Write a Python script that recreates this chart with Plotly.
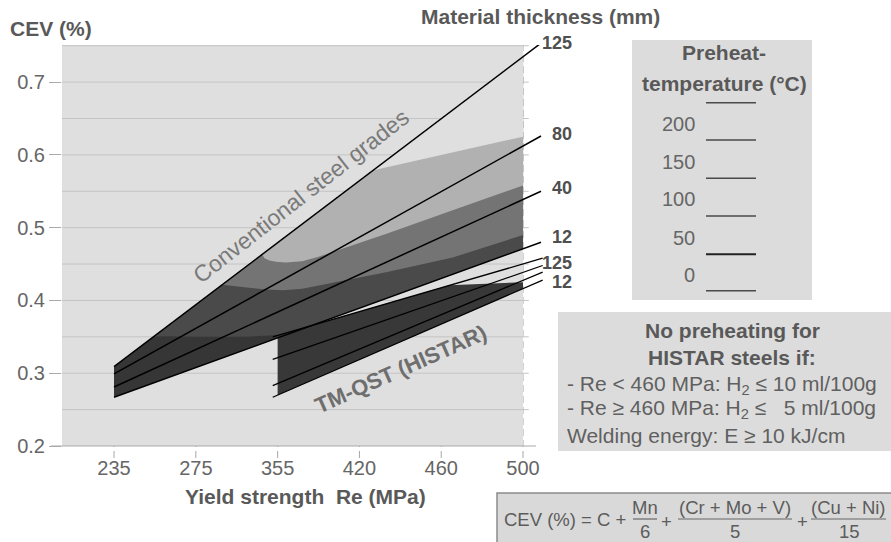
import numpy as np
import plotly.graph_objects as go

# ---------------- data ----------------
re_labels = ["235", "275", "355", "420", "460", "500"]
re_pos = [0, 1, 2, 3, 4, 5]
cev_ticks = [0.2, 0.3, 0.4, 0.5, 0.6, 0.7]
cev_grid = [0.25, 0.3, 0.35, 0.4, 0.45, 0.5, 0.55, 0.6, 0.65, 0.7, 0.75]

thickness = ["125", "80", "40", "12"]
conv_re = {"125": [0.0, 5.26], "80": [0.0, 5.22], "40": [0.0, 5.22], "12": [0.0, 5.22]}
conv_cev = {"125": [0.309, 0.757], "80": [0.299, 0.626], "40": [0.281, 0.550], "12": [0.267, 0.480]}

histar_re = [1.94, 5.24]
histar_cev = {"125": [0.350, 0.458], "80": [0.319, 0.448], "40": [0.283, 0.439], "12": [0.267, 0.428]}
histar_band_re = [2.0, 4.1, 5.0]
histar_band_top = [0.352, 0.421, 0.425]

# preheat-zone boundaries inside the conventional band
b0_re = [0.49, 1.0, 1.6, 2.1]
b0_cev = [0.351, 0.350, 0.350, 0.353]
b1_re = [1.32, 1.5, 1.66, 1.85, 2.07, 2.3, 2.52, 3.34, 4.14, 5.0]
b1_cev = [0.4215, 0.419, 0.417, 0.415, 0.414, 0.416, 0.421, 0.439, 0.459, 0.490]
b2_re = [1.81, 1.84, 1.9, 1.98, 2.1, 2.3, 2.5, 3.34, 4.14, 5.0]
b2_cev = [0.463, 0.458, 0.455, 0.453, 0.452, 0.454, 0.460, 0.492, 0.524, 0.558]
b3_re = [3.17, 5.0]
b3_cev = [0.579, 0.625]

zone_colors = ["#363636", "#4a4a4a", "#747474", "#b1b1b1", "#dfdfdf"]
histar_color = "#383838"

preheat_temps = ["200", "150", "100", "50", "0"]

FONT = "Liberation Sans, Arial, sans-serif"
GREY_TXT = "#595959"

# ---------------- geometry helpers ----------------
W, H = 891, 542
L_PX, R_PX, T_PX, B_PX = 62, 560, 45, 446
X_MIN, X_MAX = -0.636, 5.452
Y_MIN, Y_MAX = 0.2, 0.751


def pxx(x):
    return (x - L_PX) / (R_PX - L_PX)


def pxy(y):
    return (B_PX - y) / (B_PX - T_PX)


def line_at(name, x):
    return float(np.interp(x, conv_re[name], conv_cev[name]))


def hline_at(name, x):
    return float(np.interp(x, histar_re, histar_cev[name]))


fig = go.Figure()


def poly(xs, ys, color):
    fig.add_trace(go.Scatter(x=xs, y=ys, mode="lines", fill="toself", fillcolor=color,
                             line=dict(width=0, color=color), hoverinfo="skip", showlegend=False))


# full conventional band (darkest zone)
poly([0, 5, 5, 0], [line_at("12", 0), line_at("12", 5), line_at("125", 5), line_at("125", 0)], zone_colors[0])
# zone above b0
poly(b0_re + [5, 5, b0_re[0]],
     b0_cev + [line_at("12", 5), line_at("125", 5), line_at("125", b0_re[0])], zone_colors[1])
# zone above b1
poly(b1_re + [5, b1_re[0]], b1_cev + [line_at("125", 5), line_at("125", b1_re[0])], zone_colors[2])
# zone above b2
poly(b2_re + [5, b2_re[0]], b2_cev + [line_at("125", 5), line_at("125", b2_re[0])], zone_colors[3])
# background-coloured region above b3
poly(b3_re + [5, b3_re[0]], b3_cev + [line_at("125", 5), line_at("125", b3_re[0])], zone_colors[4])

# HISTAR band
poly([histar_band_re[0]] + histar_band_re + [5.0],
     [hline_at("12", histar_band_re[0])] + histar_band_top + [hline_at("12", 5.0)], histar_color)

# thickness lines
for t in thickness:
    fig.add_trace(go.Scatter(x=conv_re[t], y=conv_cev[t], mode="lines",
                             line=dict(color="black", width=1.5), hoverinfo="skip", showlegend=False))
for t in thickness:
    fig.add_trace(go.Scatter(x=histar_re, y=histar_cev[t], mode="lines",
                             line=dict(color="black", width=1.3), hoverinfo="skip", showlegend=False))

shapes = []
# plot background
shapes.append(dict(type="rect", xref="x", yref="y", x0=X_MIN, x1=5.0, y0=Y_MIN, y1=Y_MAX,
                   fillcolor="#dfdfdf", line=dict(width=0), layer="below"))
for v in cev_grid:
    shapes.append(dict(type="line", xref="x", yref="y", x0=X_MIN, x1=5.07, y0=v, y1=v,
                       line=dict(color="#c4c4c4", width=1), layer="below"))
for p in re_pos:
    shapes.append(dict(type="line", xref="x", yref="paper", x0=p, x1=p, y0=pxy(458), y1=1,
                       line=dict(color="#a8a8a8", width=1, dash="7px,4px"), layer="below"))
# x axis line
shapes.append(dict(type="line", xref="paper", yref="paper", x0=pxx(51), x1=pxx(536), y0=0, y1=0,
                   line=dict(color="#aaaaaa", width=1.2)))

# preheat legend box
shapes.append(dict(type="rect", xref="paper", yref="paper", x0=pxx(632), x1=pxx(812), y0=pxy(300), y1=pxy(40),
                   fillcolor="#dcdcdc", line=dict(width=0)))
legend_line_y = [102.7, 140, 178.3, 216, 254.3, 290.7]
for i, yy in enumerate(legend_line_y):
    shapes.append(dict(type="line", xref="paper", yref="paper", x0=pxx(706), x1=pxx(756), y0=pxy(yy), y1=pxy(yy),
                       line=dict(color="#222222" if i == 4 else "#4a4a4a", width=2 if i == 4 else 1.5)))
# HISTAR note box
shapes.append(dict(type="rect", xref="paper", yref="paper", x0=pxx(558), x1=pxx(893), y0=pxy(451), y1=pxy(312),
                   fillcolor="#dcdcdc", line=dict(width=0)))
# formula box
shapes.append(dict(type="rect", xref="paper", yref="paper", x0=pxx(497), x1=pxx(895), y0=pxy(545), y1=pxy(493),
                   fillcolor="#d9d9d9", line=dict(color="#8c8c8c", width=1.5)))
for a, b in [(633, 657), (678, 792), (811, 886)]:
    shapes.append(dict(type="line", xref="paper", yref="paper", x0=pxx(a), x1=pxx(b), y0=pxy(519), y1=pxy(519),
                       line=dict(color="#666666", width=1.2)))

ann = []


def txt(text, x, y, size=21, bold=False, color=GREY_TXT, xanchor="center", angle=0):
    ann.append(dict(text=f"<b>{text}</b>" if bold else text, xref="paper", yref="paper",
                    x=pxx(x), y=pxy(y), xanchor=xanchor, yanchor="middle", showarrow=False,
                    textangle=angle, font=dict(family=FONT, size=size, color=color)))


txt("CEV (%)", 8, 28, bold=True, xanchor="left")
txt("Material thickness (mm)", 540, 17, bold=True)
txt("Yield strength  Re (MPa)", 305, 496, bold=True)

# line labels
conv_label_y = [42.7, 134, 188, 237]
for t, yy in zip(thickness, conv_label_y):
    txt(t, 574, yy, size=18, bold=True, color="#4f4f4f", xanchor="right")
txt(thickness[0], 574, 262.7, size=18, bold=True, color="#4f4f4f", xanchor="right")
txt(thickness[-1], 574, 282, size=18, bold=True, color="#4f4f4f", xanchor="right")

txt("Conventional steel grades", 301, 196, size=23, color="#7a7a7a", angle=-38)
txt("TM-QST (HISTAR)", 400, 369, size=22, bold=True, color="#6e6e6e", angle=-24)

# preheat legend
txt("Preheat-", 724, 53, bold=True)
txt("temperature (°C)", 724, 83, bold=True)
legend_label_y = [124, 161.7, 199, 237.7, 275]
for lab, yy in zip(preheat_temps, legend_label_y):
    txt(lab, 697, yy, size=20, color="#666666", xanchor="right")

# HISTAR note
txt("No preheating for", 732, 330, bold=True)
txt("HISTAR steels if:", 732, 357, bold=True)
txt("- Re &lt; 460 MPa: H<sub>2</sub> ≤ 10 ml/100g", 565, 385, color="#606060", xanchor="left")
txt("- Re ≥ 460 MPa: H<sub>2</sub> ≤ \u00a0 5 ml/100g", 565, 409, color="#606060", xanchor="left")
txt("Welding energy: E ≥ 10 kJ/cm", 565, 435, color="#606060", xanchor="left")

# formula
fs = 18.5
txt("CEV (%) = C +", 628, 519, size=fs, color="#5c5c5c", xanchor="right")
txt("Mn", 645, 507, size=fs, color="#5c5c5c")
txt("6", 645, 531, size=fs, color="#5c5c5c")
txt("+", 666, 521, size=fs, color="#5c5c5c")
txt("(Cr + Mo + V)", 735, 507, size=fs, color="#5c5c5c")
txt("5", 735, 531, size=fs, color="#5c5c5c")
txt("+", 802, 521, size=fs, color="#5c5c5c")
txt("(Cu + Ni)", 848, 507, size=fs, color="#5c5c5c")
txt("15", 849, 531, size=fs, color="#5c5c5c")

fig.update_layout(
    width=W, height=H,
    margin=dict(l=L_PX, r=W - R_PX, t=T_PX, b=H - B_PX, pad=0),
    paper_bgcolor="white", plot_bgcolor="white",
    shapes=shapes, annotations=ann,
    font=dict(family=FONT, color="#666666"),
    xaxis=dict(range=[X_MIN, X_MAX], tickvals=re_pos, ticktext=re_labels, showgrid=False, zeroline=False,
               showline=False, ticks="outside", ticklen=4, tickcolor="rgba(0,0,0,0)",
               tickfont=dict(size=20, color="#666666", family=FONT), fixedrange=True),
    yaxis=dict(range=[Y_MIN, Y_MAX], tickvals=cev_ticks, ticktext=[f"{v:.1f}" for v in cev_ticks],
               showgrid=False, zeroline=False, showline=False, ticks="outside", ticklen=12,
               tickcolor="#aaaaaa", tickfont=dict(size=20, color="#666666", family=FONT), fixedrange=True),
    showlegend=False,
)

fig.write_html("out.html")
